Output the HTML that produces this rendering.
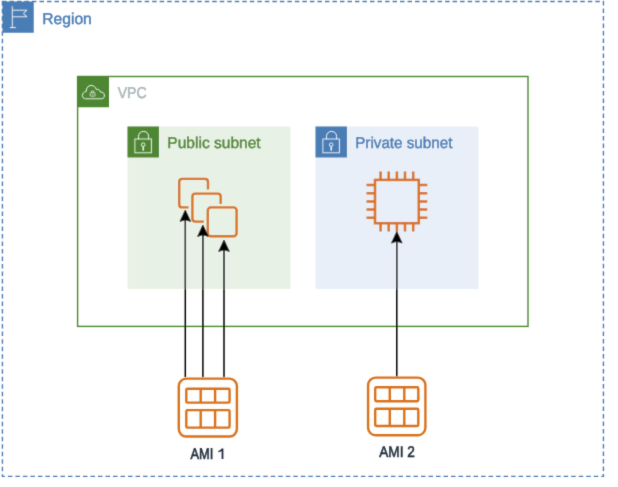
<!DOCTYPE html>
<html>
<head>
<meta charset="utf-8">
<style>
html,body{margin:0;padding:0;background:#ffffff;width:618px;height:487px;overflow:hidden;}
svg{position:absolute;left:0;top:0;display:block;will-change:transform;}
text{font-family:"Liberation Sans",sans-serif;}
</style>
</head>
<body>
<svg width="618" height="487" viewBox="0 0 618 487">
<defs><filter id="bl" filterUnits="userSpaceOnUse" x="0" y="0" width="618" height="487"><feConvolveMatrix order="3" kernelMatrix="0.0144 0.0912 0.0144 0.0912 0.5776 0.0912 0.0144 0.0912 0.0144" edgeMode="none" preserveAlpha="false"/></filter></defs>
<g filter="url(#bl)">
  <!-- Region -->
  <rect x="2.43" y="1.5" width="601" height="474.9" fill="none" stroke="#4A7DB5" stroke-width="1.4" stroke-dasharray="4.5 3.011" stroke-dashoffset="0.485"/>
  <rect x="2.5" y="1.5" width="31.25" height="31.25" fill="#4A7DB5"/>
  <g stroke="#ffffff" stroke-opacity="0.82" stroke-width="1" fill="none">
    <path d="M12.3 7.6 V27.6 M9.9 27.6 H15.8 M12.3 10.2 H26.9 L23.4 13.5 L26.9 16.8 H12.3"/>
    <circle cx="12.3" cy="7" r="0.7" fill="#ffffff" fill-opacity="0.82" stroke="none"/>
  </g>
  <text transform="translate(42.242 24.000) scale(1.0023 1)" font-size="15.60" fill="#4A7DB5" stroke="#4A7DB5" stroke-width="0.45" text-rendering="geometricPrecision">Region</text>

  <!-- VPC -->
  <rect x="77.6" y="76.5" width="450.4" height="249.9" fill="none" stroke="#4E8732" stroke-width="1.4"/>
  <rect x="77" y="76" width="32" height="31.25" fill="#4E8732"/>
  <g stroke="#ffffff" stroke-opacity="0.82" stroke-width="1" fill="none">
    <path d="M85.5 98.8 H101.5 C103.6 98.8 104.6 97.1 104.4 95.1 C104.1 92.9 102.3 91.8 100.4 92.1 C99.8 89.7 97.8 88.7 96.4 89.6 C95.5 86.8 93.4 85.4 91.1 85.4 C88.2 85.5 86.2 87.9 86.2 91.4 C83.8 91.9 82.3 93.7 82.4 95.5 C82.5 97.5 83.7 98.8 85.5 98.8 Z"/>
    <rect x="90.2" y="92.7" width="4.8" height="3.5" rx="0.6" stroke-width="0.8"/>
    <path d="M91.3 92.7 V92.1 C91.3 90.3 93.9 90.3 93.9 92.1 V92.7" stroke-width="0.8"/>
    <path d="M91.6 94.6 H93.6" stroke-width="0.6"/>
  </g>
  <text transform="translate(117.663 97.800) scale(0.9057 1)" font-size="15.60" fill="#AAB7B8" stroke="#AAB7B8" stroke-width="0.50" text-rendering="geometricPrecision">VPC</text>

  <!-- Public subnet -->
  <rect x="127.5" y="126.5" width="163" height="162.4" fill="#E8F1E5"/>
  <rect x="127.5" y="126.5" width="31.5" height="31" fill="#4E8732"/>
  <g stroke="#ffffff" stroke-opacity="0.82" stroke-width="1" fill="none">
    <rect x="134.9" y="139" width="16.5" height="13.8"/>
    <path d="M138.5 139.2 V136.4 C138.5 129.7 148.6 129.7 148.6 136.4 V139.2"/>
    <circle cx="143.2" cy="144.7" r="1.8"/>
    <path d="M143.2 146.6 L142.9 150.3 H143.5 Z"/>
  </g>
  <text transform="translate(167.350 147.500) scale(0.9966 1)" font-size="15.60" fill="#4E8732" stroke="#4E8732" stroke-width="0.45" text-rendering="geometricPrecision">Public subnet</text>

  <!-- Private subnet -->
  <rect x="315.5" y="126.5" width="163" height="162.4" fill="#E8EFF8"/>
  <rect x="315.5" y="126.5" width="31.5" height="31" fill="#4A7DB5"/>
  <g stroke="#ffffff" stroke-opacity="0.82" stroke-width="1" fill="none">
    <rect x="322.9" y="139" width="16.5" height="13.8"/>
    <path d="M326.5 139.2 V136.4 C326.5 129.7 336.6 129.7 336.6 136.4 V139.2"/>
    <circle cx="331.2" cy="144.7" r="1.8"/>
    <path d="M331.2 146.6 L330.9 150.3 H331.5 Z"/>
  </g>
  <text transform="translate(355.176 147.500) scale(0.9758 1)" font-size="15.60" fill="#4A7DB5" stroke="#4A7DB5" stroke-width="0.46" text-rendering="geometricPrecision">Private subnet</text>

  <!-- EC2 instances (orange stacked squares) -->
  <g stroke="#D9721F" stroke-width="2.4" fill="none" stroke-linecap="butt">
    <path d="M188.5 207.4 H182.2 Q179.2 207.4 179.2 204.4 V181.9 Q179.2 178.9 182.2 178.9 H205 Q208 178.9 208 181.9 V189.6"/>
    <path d="M203.9 221.6 H195.4 Q192.4 221.6 192.4 218.6 V196.6 Q192.4 193.6 195.4 193.6 H217.7 Q220.7 193.6 220.7 196.6 V203.9"/>
    <rect x="207.8" y="207.4" width="28.8" height="28.8" rx="3"/>
  </g>

  <!-- EC2 chip -->
  <g stroke="#D9721F" stroke-width="2.5" fill="none">
    <rect x="375" y="179.9" width="43.8" height="43.3"/>
    <path d="M380.6 171.5 V179.9 M388.7 171.5 V179.9 M396.9 171.5 V179.9 M405 171.5 V179.9 M413.2 171.5 V179.9"/>
    <path d="M380.6 223.2 V231.5 M388.7 223.2 V231.5 M396.9 223.2 V231.5 M405 223.2 V231.5 M413.2 223.2 V231.5"/>
    <path d="M366.5 185.1 H375 M366.5 193.3 H375 M366.5 201.4 H375 M366.5 209.6 H375 M366.5 217.8 H375"/>
    <path d="M418.8 185.1 H427.3 M418.8 193.3 H427.3 M418.8 201.4 H427.3 M418.8 209.6 H427.3 M418.8 217.8 H427.3"/>
  </g>

  <!-- Arrows -->
  <g stroke="#000000" stroke-width="1.5" fill="none">
    <path d="M185.3 377.2 V219"/>
    <path d="M202.9 377.2 V234"/>
    <path d="M224 377.2 V249"/>
    <path d="M396.8 376.5 V240.5"/>
  </g>
  <g fill="#000000" stroke="#000000" stroke-width="0.8" stroke-linejoin="miter">
    <path d="M185.3 210.0 L190.6 221.4 L185.3 219.7 L180.0 221.4 Z"/>
    <path d="M202.9 225.0 L208.2 236.4 L202.9 234.7 L197.6 236.4 Z"/>
    <path d="M224.0 240.0 L229.3 251.4 L224.0 249.7 L218.7 251.4 Z"/>
    <path d="M396.8 231.6 L402.1 243.0 L396.8 241.3 L391.5 243.0 Z"/>
  </g>

  <!-- AMI icons -->
  <g stroke="#D9721F" stroke-width="2.4" fill="none">
    <rect x="178.8" y="378.6" width="58.1" height="57.9" rx="7.5"/>
    <rect x="186.3" y="388.7" width="43.3" height="13.9" rx="1.2"/>
    <rect x="186.3" y="410.1" width="43.3" height="17.5" rx="1.2"/>
    <path d="M200.7 388.7 V402.6 M215.1 388.7 V402.6 M200.7 410.1 V427.6 M215.1 410.1 V427.6"/>

    <rect x="368.1" y="377.6" width="57.3" height="57.6" rx="7.5"/>
    <rect x="375.2" y="387.3" width="43.1" height="13.9" rx="1.2"/>
    <rect x="375.2" y="408.7" width="43.1" height="17.3" rx="1.2"/>
    <path d="M389.8 387.3 V401.2 M404.3 387.3 V401.2 M389.8 408.7 V426 M404.3 408.7 V426"/>
  </g>
  <text transform="translate(190.425 458.500) scale(0.8331 1)" font-size="15.40" fill="#232F3E" stroke="#232F3E" stroke-width="0.60" text-rendering="geometricPrecision">AMI</text>
  <path fill="#232F3E" d="M221.6 448.4 H223.4 V459.1 H221.6 V451 C220.8 451.7 219.6 452.1 218.3 452.3 V450.9 C219.8 450.5 221 449.6 221.6 448.4 Z"/>
  <text transform="translate(379.223 457.300) scale(0.8854 1)" font-size="15.40" fill="#232F3E" stroke="#232F3E" stroke-width="0.56" text-rendering="geometricPrecision">AMI 2</text>
</g>
</svg>
</body>
</html>
